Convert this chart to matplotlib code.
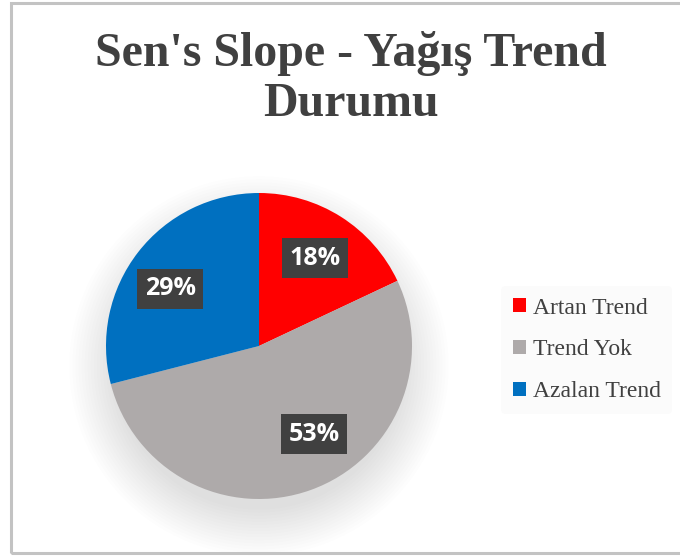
import numpy as np
import matplotlib.pyplot as plt
from matplotlib.patches import Rectangle, Circle, Patch

# data
categories = ['Artan Trend', 'Trend Yok', 'Azalan Trend']
shares = [18, 53, 29]
colors = ['#ff0000', '#aeaaaa', '#0070c0']
title_lines = ["Sen's Slope - Yağış Trend", 'Durumu']

# label placement tweaks (degrees, radius fraction) to mimic Excel's best-fit labels
label_shift = [0, 12, 5]
label_dist = [0.68, 0.68, 0.69]

W, H = 680, 556
fig = plt.figure(figsize=(W / 100, H / 100), dpi=100)
fig.patch.set_facecolor('white')

# chart border (right edge is cut off in the reference)
fig.patches.append(Rectangle((11 / W, 3 / H), 700 / W, 550 / H, transform=fig.transFigure,
                             fill=False, edgecolor='#c3c3c3', linewidth=2.2))

# pie axes placed by pixels
cx, cy, r = 259, 346, 153
ax = fig.add_axes([(cx - r) / W, (H - cy - r) / H, 2 * r / W, 2 * r / H])

# soft shadow under the pie
for i in range(16):
    ax.add_patch(Circle((0, -0.13), 0.94 + 0.02 * i, color='black', alpha=0.007,
                        lw=0, clip_on=False, zorder=0))

wedges, _, autotexts = ax.pie(shares, colors=colors, startangle=90, counterclock=False,
                              autopct='%1.0f%%', pctdistance=0.68, radius=1.0,
                              wedgeprops=dict(linewidth=0),
                              textprops=dict(color='white', fontsize=18, fontweight='bold',
                                             family='Open Sans'))
for w, t, sh, d in zip(wedges, autotexts, label_shift, label_dist):
    w.set_zorder(2)
    mid = np.deg2rad((w.theta1 + w.theta2) / 2 + sh)
    t.set_position((d * np.cos(mid), d * np.sin(mid)))
    t.set_zorder(3)
    t.set_bbox(dict(boxstyle='square,pad=0.3', facecolor='#404040', edgecolor='none'))
ax.set_xlim(-1, 1)
ax.set_ylim(-1, 1)
ax.set_aspect('equal')
ax.axis('off')

# title
fig.text(351 / W, 1 - 53 / H, title_lines[0], ha='center', va='center',
         family='Liberation Serif', fontweight='bold', fontsize=34.5, color='#404040')
fig.text(351 / W, 1 - 104 / H, title_lines[1], ha='center', va='center',
         family='Liberation Serif', fontweight='bold', fontsize=34.5, color='#404040')

# legend
handles = [Patch(facecolor=c, edgecolor='none') for c in colors]
leg = fig.legend(handles, categories, loc='center left', bbox_to_anchor=(489 / W, 1 - 350 / H),
                 frameon=True, handlelength=0.55, handleheight=0.55,
                 handletextpad=0.3, labelspacing=0.88, borderpad=0.5,
                 prop=dict(family='Liberation Serif', size=17))
leg.get_frame().set_facecolor('#fafafa')
leg.get_frame().set_edgecolor('none')
for t in leg.get_texts():
    t.set_color('#404040')

fig.savefig('out.png', dpi=100)
